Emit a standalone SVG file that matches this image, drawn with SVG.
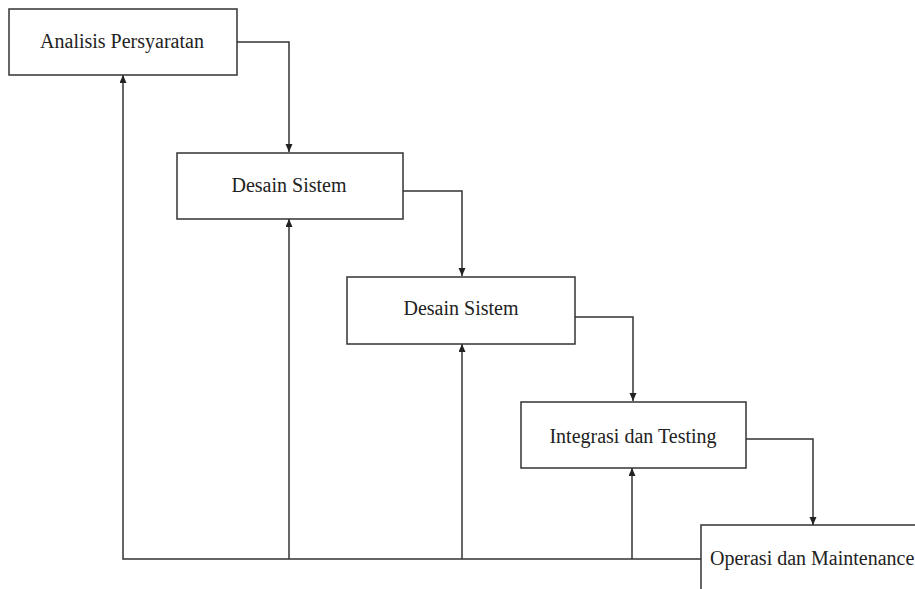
<svg xmlns="http://www.w3.org/2000/svg" width="915" height="589" viewBox="0 0 915 589">
  <style>
    .box { fill: #ffffff; stroke: #333333; stroke-width: 1.5; }
    .lbl { font-family: "Liberation Serif", "Times New Roman", serif; font-size: 20px; fill: #222222; }
    .mid { text-anchor: middle; }
    .conn { fill: none; stroke: #333333; stroke-width: 1.5; }
  </style>
  <defs>
    <marker id="arr" markerUnits="userSpaceOnUse" markerWidth="8" markerHeight="8" refX="8" refY="3.5" orient="auto">
      <path d="M0,0 L8,3.5 L0,7 z" fill="#222222"/>
    </marker>
  </defs>
  <rect width="915" height="589" fill="#ffffff"/>
  <g id="connectors">
    <path class="conn" d="M237,42 H289 V152" marker-end="url(#arr)"/>
    <path class="conn" d="M403,191 H462 V276" marker-end="url(#arr)"/>
    <path class="conn" d="M575,317 H633 V401" marker-end="url(#arr)"/>
    <path class="conn" d="M746,439 H813 V525" marker-end="url(#arr)"/>
    <path class="conn" d="M701,559 H123 V75" marker-end="url(#arr)"/>
    <path class="conn" d="M289,559 V219" marker-end="url(#arr)"/>
    <path class="conn" d="M462,559 V344" marker-end="url(#arr)"/>
    <path class="conn" d="M632,559 V468" marker-end="url(#arr)"/>
  </g>
  <g id="analisis">
    <rect class="box" x="9" y="9" width="228" height="66"/>
    <text class="lbl mid" x="122" y="48">Analisis Persyaratan</text>
  </g>
  <g id="desain1">
    <rect class="box" x="177" y="153" width="226" height="66"/>
    <text class="lbl mid" x="289" y="192">Desain Sistem</text>
  </g>
  <g id="desain2">
    <rect class="box" x="347" y="277" width="228" height="67"/>
    <text class="lbl mid" x="461" y="315">Desain Sistem</text>
  </g>
  <g id="integrasi">
    <rect class="box" x="521" y="402" width="225" height="66"/>
    <text class="lbl mid" x="633" y="443">Integrasi dan Testing</text>
  </g>
  <g id="operasi">
    <rect class="box" x="701" y="525" width="240" height="90"/>
    <text class="lbl" x="710" y="565">Operasi dan Maintenance</text>
  </g>
</svg>
